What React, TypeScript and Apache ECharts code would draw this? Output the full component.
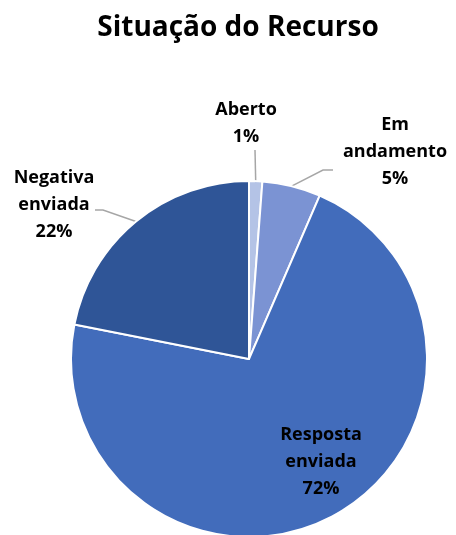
import React, { useEffect, useRef } from "react";
import * as echarts from "echarts";

const categories = ["Aberto", "Em andamento", "Resposta enviada", "Negativa enviada"];
const labelNames = ["Aberto", "Em\nandamento", "Resposta\nenviada", "Negativa\nenviada"];
// slice sizes (percent)
const values = [1.2, 5.3, 71.6, 21.9];
const colors = ["#B4C3E6", "#7B93D3", "#426CBB", "#2F5597"];
// label block centres
const labelPos = [
  [246, 121],
  [395, 150],
  [321, 460],
  [54, 203],
];
// leader-line end offsets relative to the label block centre: [elbow, end]
const leaderEnds: (number[][] | null)[] = [
  [[9, 29], [9, 29]],
  [[-72, 20], [-62, 20]],
  null,
  [[49, 7], [41, 7]],
];

export default function App() {
  const ref = useRef<HTMLDivElement>(null);
  useEffect(() => {
    if (!ref.current) return;
    const chart = echarts.init(ref.current, null, { renderer: "svg" });
    chart.setOption({
      animation: false,
      title: {
        text: "Situação do Recurso",
        left: 233,
        top: 6,
        textAlign: "center",
        textStyle: {
          fontFamily: "Open Sans",
          fontWeight: "bold",
          fontSize: 28,
          color: "#000",
        },
      },
      series: [
        {
          type: "pie",
          center: [249, 359],
          radius: 178,
          startAngle: 90,
          clockwise: true,
          avoidLabelOverlap: false,
          itemStyle: { borderColor: "#fff", borderWidth: 2 },
          label: {
            show: true,
            position: "outside",
            fontFamily: "Open Sans",
            fontWeight: "bold",
            fontSize: 18,
            lineHeight: 27,
            color: "#000",
            align: "center",
            formatter: (p: any) =>
              labelNames[p.dataIndex] + "\n" + Math.round(p.percent) + "%",
          },
          labelLine: {
            show: true,
            length: 20,
            length2: 10,
            lineStyle: { color: "#A6A6A6", width: 1.5 },
          },
          labelLayout: (p: any) => {
            const i = p.dataIndex;
            const [cx, cy] = labelPos[i];
            const out: any = { x: cx, y: cy, align: "center", verticalAlign: "middle" };
            const le = leaderEnds[i];
            if (le && p.labelLinePoints && p.labelLinePoints[0]) {
              out.labelLinePoints = [
                p.labelLinePoints[0],
                [cx + le[0][0], cy + le[0][1]],
                [cx + le[1][0], cy + le[1][1]],
              ];
            }
            return out;
          },
          data: categories.map((c, i) => ({
            name: c,
            value: values[i],
            itemStyle: { color: colors[i] },
            ...(i === 2
              ? { label: { position: "inside" }, labelLine: { show: false } }
              : {}),
          })),
        },
      ],
    });
    return () => chart.dispose();
  }, []);
  return (
    <div
      ref={ref}
      style={{ position: "fixed", left: 0, top: 0, width: 456, height: 535 }}
    />
  );
}
